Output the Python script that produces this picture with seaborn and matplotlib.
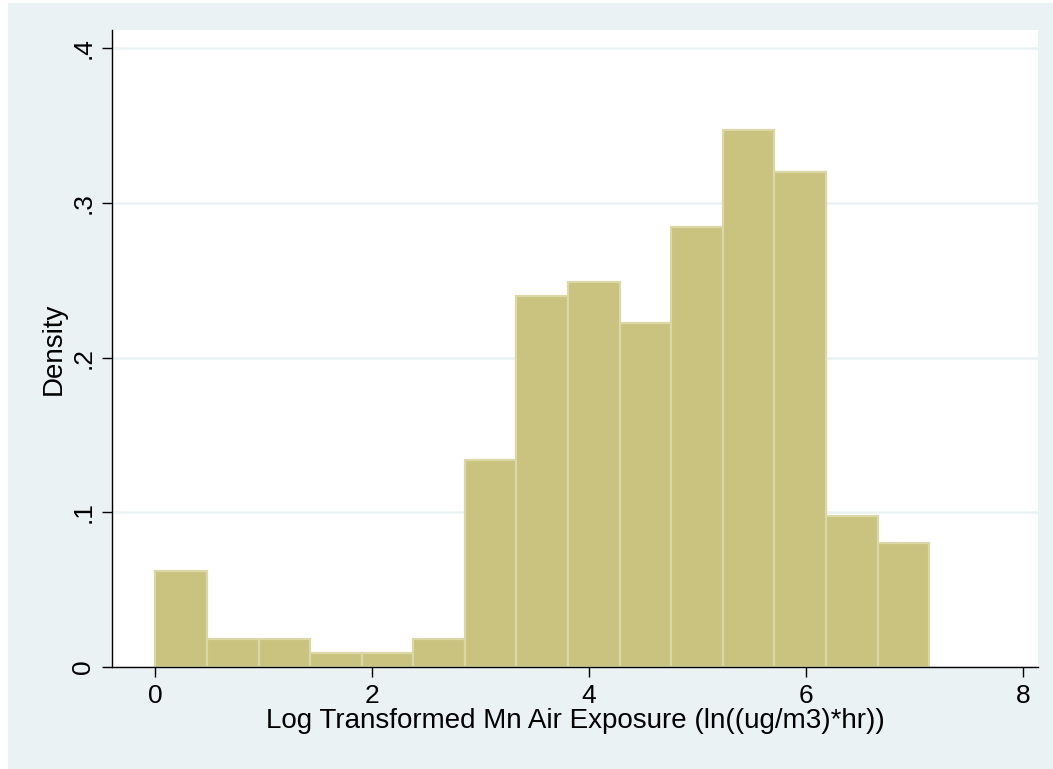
import numpy as np
import pandas as pd
import matplotlib
matplotlib.use("Agg")
import matplotlib.pyplot as plt
import seaborn as sns
from matplotlib.patches import Rectangle

# Histogram of log-transformed Mn air exposure (density scale)
bin_start = 0.0
bin_width = 0.4757
density = [0.0623, 0.0179, 0.0179, 0.0090, 0.0090, 0.0179, 0.1336, 0.2398,
           0.2489, 0.2224, 0.2846, 0.3469, 0.3200, 0.0978, 0.0802]
x_ticks = [0, 2, 4, 6, 8]
y_ticks = [0, 0.1, 0.2, 0.3, 0.4]
y_tick_labels = ["0", ".1", ".2", ".3", ".4"]
x_label = "Log Transformed Mn Air Exposure (ln((ug/m3)*hr))"
y_label = "Density"

edges = [float(e) for e in bin_start + bin_width * np.arange(len(density) + 1)]
centers = [(a + b) / 2 for a, b in zip(edges[:-1], edges[1:])]
df = pd.DataFrame({"x": centers, "d": density})

sns.set_theme(style="white")
plt.rcParams["font.family"] = ["Liberation Sans", "DejaVu Sans"]

BG = "#EAF2F3"
fig = plt.figure(figsize=(10.53, 7.69), dpi=100, facecolor="white")
fig.patches.append(Rectangle((8 / 1053, 0), 1 - 8 / 1053, 766 / 769,
                             transform=fig.transFigure, facecolor=BG,
                             edgecolor="none", zorder=-10))
ax = fig.add_axes([112 / 1053, 102 / 769, (1038 - 112) / 1053, (667 - 30) / 769])
ax.set_facecolor("white")

sns.histplot(data=df, x="x", weights="d", bins=edges, stat="count",
             color="#C9C37F", edgecolor="#DCD7A6", linewidth=1.6, alpha=1.0,
             ax=ax, zorder=3)

ax.set_xlim(-0.40, 8.14)
ax.set_ylim(0, 0.4118)
ax.set_xticks(x_ticks)
ax.set_xticklabels([str(t) for t in x_ticks], fontsize=19)
ax.set_yticks(y_ticks)
ax.set_yticklabels(y_tick_labels, fontsize=19, rotation=90, va="center")
ax.grid(axis="y", color=BG, linewidth=1.8, zorder=1)
ax.grid(axis="x", visible=False)
ax.set_axisbelow(True)

for s in ["top", "right"]:
    ax.spines[s].set_visible(False)
for s in ["left", "bottom"]:
    ax.spines[s].set_color("black")
    ax.spines[s].set_linewidth(1.0)
    ax.spines[s].set_zorder(5)

ax.tick_params(axis="both", which="major", direction="out", length=7,
               width=1.0, color="black", labelcolor="black", pad=5,
               left=True, bottom=True)

ax.set_xlabel(x_label, fontsize=20, color="black", labelpad=0)
ax.set_ylabel(y_label, fontsize=20, color="black", labelpad=3)

fig.savefig("out.png", dpi=100, facecolor=fig.get_facecolor())
